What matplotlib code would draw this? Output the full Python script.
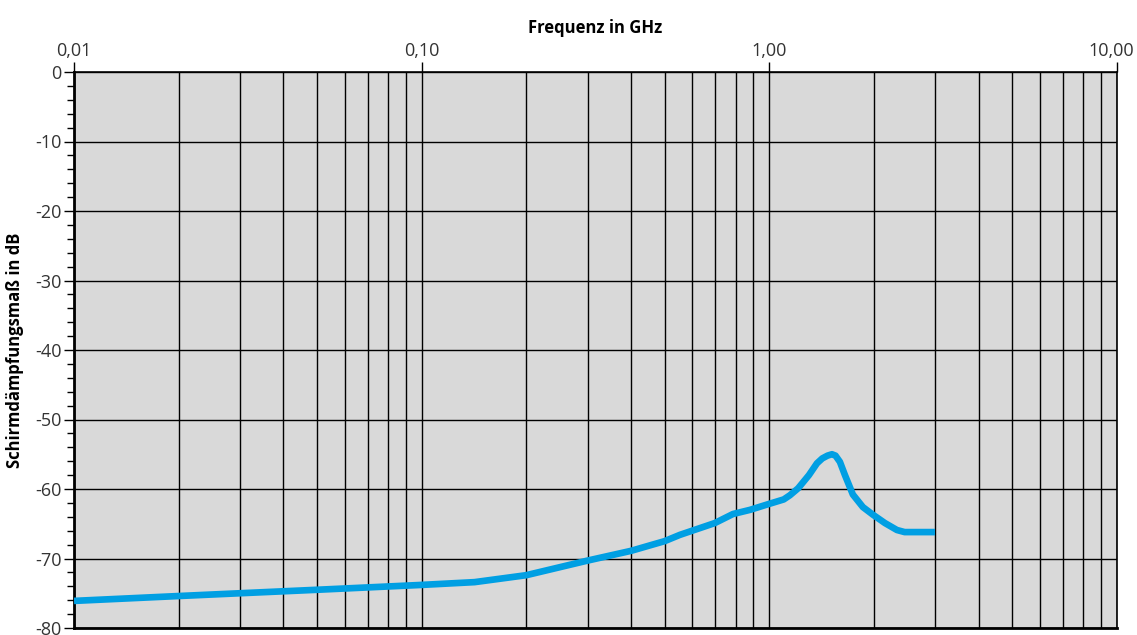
import matplotlib
matplotlib.use("Agg")
import matplotlib.pyplot as plt
from matplotlib.ticker import FixedLocator, LogLocator, NullFormatter, FixedFormatter
from matplotlib.transforms import ScaledTranslation

freq_ghz = [0.01, 0.02, 0.03, 0.05, 0.1, 0.142, 0.2, 0.3, 0.4, 0.5, 0.553, 0.697, 0.786,
            0.88, 0.99, 1.10, 1.146, 1.21, 1.30, 1.371, 1.42, 1.47, 1.514, 1.55, 1.596,
            1.65, 1.739, 1.858, 1.986, 2.15, 2.328, 2.45, 2.588, 2.995]
shield_db = [-76.1, -75.4, -75.0, -74.5, -73.8, -73.4, -72.4, -70.3, -68.9, -67.5, -66.6,
             -64.9, -63.6, -63.0, -62.2, -61.5, -60.9, -59.9, -58.0, -56.3, -55.6, -55.2,
             -55.0, -55.2, -56.1, -58.0, -60.8, -62.6, -63.7, -64.9, -65.9, -66.2, -66.2, -66.2]

x_ticks = [0.01, 0.1, 1.0, 10.0]
x_tick_labels = ["0,01", "0,10", "1,00", "10,00"]
y_ticks = [0, -10, -20, -30, -40, -50, -60, -70, -80]
y_tick_labels = ["0", "-10", "-20", "-30", "-40", "-50", "-60", "-70", "-80"]

plt.rcParams['font.family'] = ['Open Sans', 'DejaVu Sans']
fig = plt.figure(figsize=(11.37, 6.35), dpi=100)
ax = fig.add_axes([74/1137, 1-628/635, (1117-74)/1137, (628-72)/635])
ax.set_facecolor('#d9d9d9')
ax.set_xscale('log')
ax.set_xlim(0.01, 10)
ax.set_ylim(-80, 0)

ax.xaxis.set_major_locator(FixedLocator(x_ticks))
ax.xaxis.set_major_formatter(FixedFormatter(x_tick_labels))
ax.xaxis.set_minor_locator(LogLocator(base=10, subs=range(2, 10)))
ax.xaxis.set_minor_formatter(NullFormatter())
ax.xaxis.tick_top()
ax.xaxis.set_label_position('top')
ax.tick_params(axis='x', which='major', length=7, width=1, color='black',
               labelsize=13, labelcolor='#333333', pad=2)
ax.tick_params(axis='x', which='minor', length=0)

ax.yaxis.set_major_locator(FixedLocator(y_ticks))
ax.yaxis.set_major_formatter(FixedFormatter(y_tick_labels))
ax.yaxis.set_minor_locator(FixedLocator(list(range(-80, 1, 2))))
ax.tick_params(axis='y', which='major', length=7, width=1, color='black',
               labelsize=13, labelcolor='#333333', pad=2)
ax.tick_params(axis='y', which='minor', length=5, width=1, color='black')

ax.grid(True, which='major', axis='both', color='black', linewidth=1)
ax.grid(True, which='minor', axis='x', color='black', linewidth=1)
ax.set_axisbelow(True)

for s in ['left', 'bottom']:
    ax.spines[s].set_linewidth(2)
for s in ['top', 'right']:
    ax.spines[s].set_linewidth(1.2)

ax.plot(freq_ghz, shield_db, color='#009fe3', linewidth=4.8, solid_capstyle='butt',
        solid_joinstyle='round', zorder=3)

ax.set_xlabel('Frequenz in GHz', fontsize=12, fontweight='bold', labelpad=6)
ax.set_ylabel('Schirmdämpfungsmaß in dB', fontsize=12, fontweight='bold', labelpad=8)

fig.canvas.draw()
last = ax.xaxis.get_majorticklabels()[-1]
last.set_transform(last.get_transform() + ScaledTranslation(-6/100, 0, fig.dpi_scale_trans))

fig.savefig('out.png', dpi=100)
